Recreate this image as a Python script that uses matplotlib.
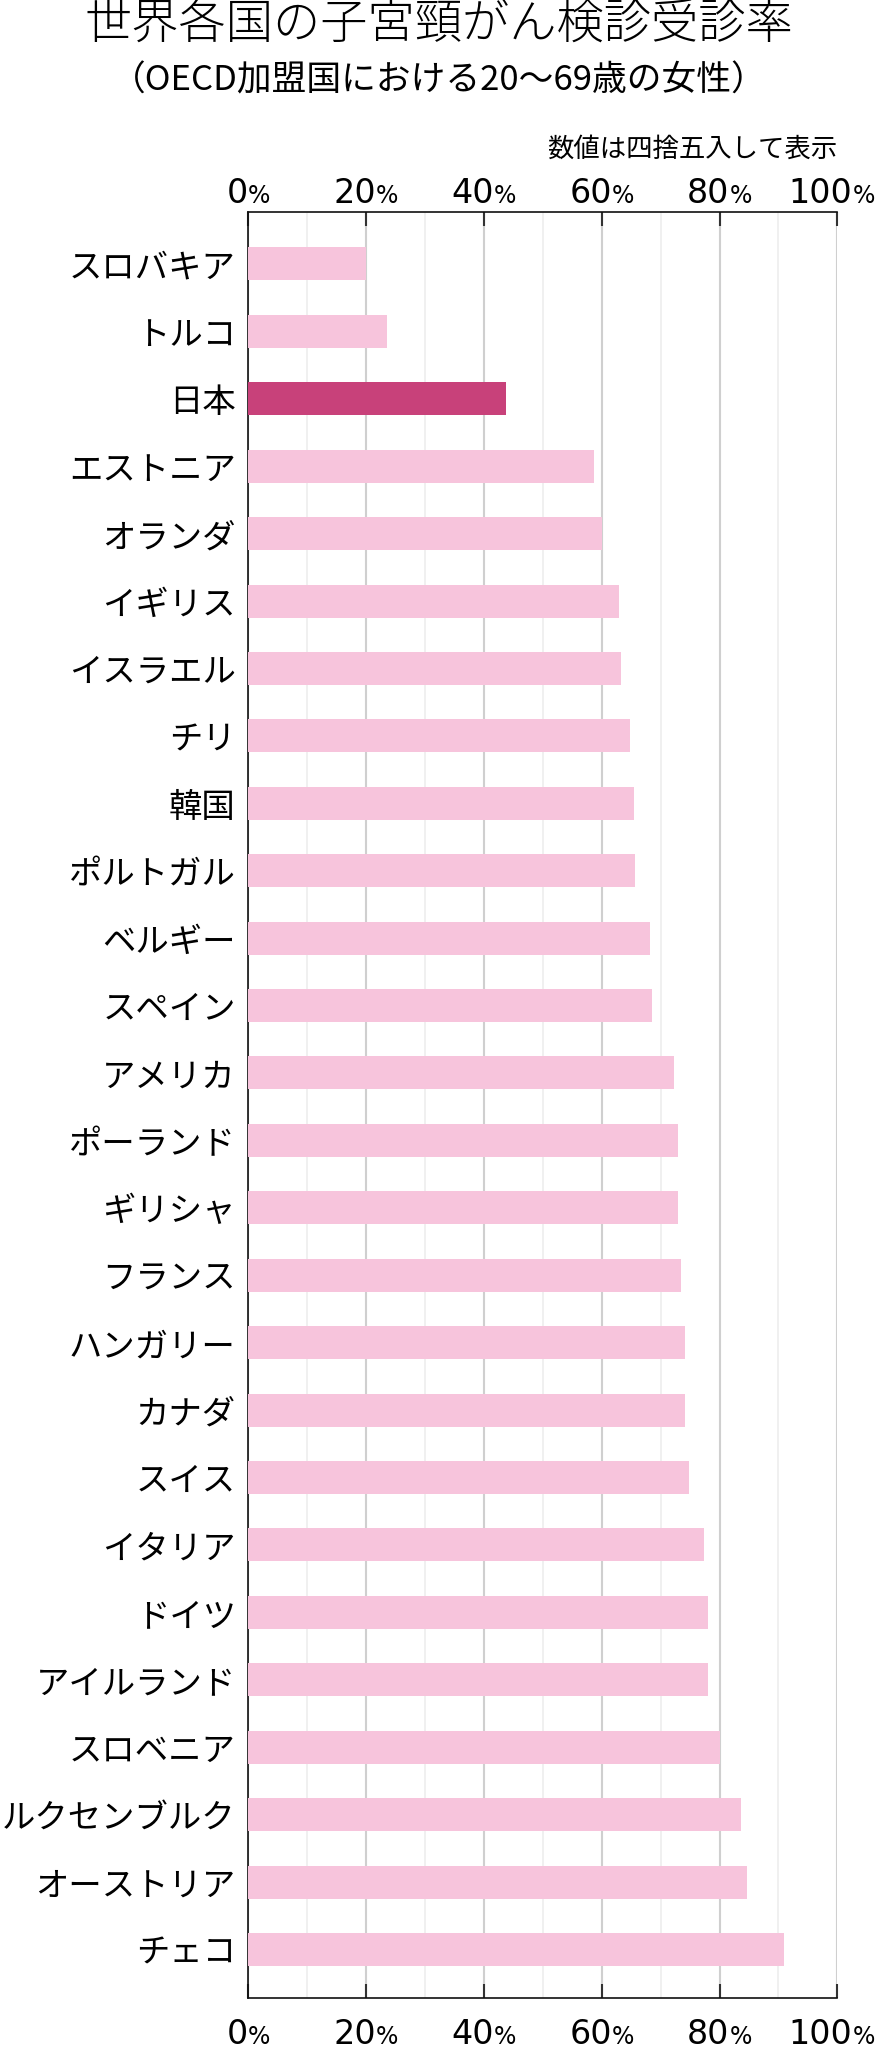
import matplotlib
matplotlib.use("Agg")
import matplotlib.pyplot as plt
import matplotlib.transforms as mtransforms
import numpy as np

plt.rcParams['font.family'] = ['Noto Sans CJK JP', 'DejaVu Sans']

# data (%)
countries = ['スロバキア', 'トルコ', '日本', 'エストニア', 'オランダ', 'イギリス',
             'イスラエル', 'チリ', '韓国', 'ポルトガル', 'ベルギー', 'スペイン',
             'アメリカ', 'ポーランド', 'ギリシャ', 'フランス', 'ハンガリー', 'カナダ',
             'スイス', 'イタリア', 'ドイツ', 'アイルランド', 'スロベニア',
             'ルクセンブルク', 'オーストリア', 'チェコ']
rates = [19.9, 23.6, 43.7, 58.7, 60.1, 62.9, 63.2, 64.8, 65.4, 65.6, 68.2, 68.5,
         72.2, 73.0, 73.0, 73.5, 74.1, 74.1, 74.9, 77.3, 78.0, 78.1, 80.1,
         83.6, 84.7, 91.0]
highlight = '日本'
tick_values = [0, 20, 40, 60, 80, 100]

title = '世界各国の子宮頸がん検診受診率'
subtitle = '（OECD加盟国における20～69歳の女性）'
note = '数値は四捨五入して表示'

W, H = 877, 2047
PINK = '#F7C4DC'
DARK = '#C8417A'


def main():
    fig = plt.figure(figsize=(W / 100, H / 100), dpi=100)
    ax = fig.add_axes([248.3 / W, 1 - 1998 / H, (837.3 - 248.3) / W, (1998 - 212) / H])

    y = np.arange(len(countries))
    colors = [DARK if c == highlight else PINK for c in countries]
    ax.barh(y, rates, height=0.49, color=colors, zorder=3)

    ax.set_xlim(0, 100)
    ax.set_ylim(len(countries) - 1 + 0.72, -0.77)
    ax.set_yticks(y)
    ax.set_yticklabels(countries, fontsize=24)
    ax.tick_params(axis='y', length=0, pad=9)

    ax.set_xticks(tick_values)
    ax.set_xticks(np.arange(10, 100, 20), minor=True)
    ax.tick_params(axis='x', which='major', direction='in', length=10, width=1.5,
                   color='#333333', top=True, bottom=True,
                   labeltop=False, labelbottom=False)
    ax.tick_params(axis='x', which='minor', length=0, top=False, bottom=False)
    ax.grid(axis='x', which='major', color='#CFCFCF', lw=1.5, zorder=0)
    ax.grid(axis='x', which='minor', color='#EDEDED', lw=1.2, zorder=0)
    ax.set_axisbelow(True)

    ax.spines['right'].set_visible(False)
    for s in ('left', 'top', 'bottom'):
        ax.spines[s].set_color('#111111')
        ax.spines[s].set_linewidth(1.2)

    # titles
    fig.text(0.5, 1 - 25 / H, title, ha='center', va='center', fontsize=34,
             fontweight='light')
    fig.text(0.5, 1 - 81 / H, subtitle, ha='center', va='center', fontsize=25)
    fig.text(837 / W, 1 - 149 / H, note, ha='right', va='center', fontsize=19)

    # percent tick labels with a smaller "%" sign, on top and bottom
    fig.canvas.draw()
    renderer = fig.canvas.get_renderer()
    trans = mtransforms.blended_transform_factory(ax.transData, fig.transFigure)
    for base in (1 - 203 / H, 1 - 2044 / H):
        for v in tick_values:
            num = ax.text(v, base, str(v), transform=trans, ha='left', va='baseline',
                          fontsize=24, family='DejaVu Sans')
            pct = ax.text(v, base, '%', transform=trans, ha='left', va='baseline',
                          fontsize=17, family='DejaVu Sans')
            w1 = num.get_window_extent(renderer).width
            w2 = pct.get_window_extent(renderer).width
            x0 = ax.transData.transform((v, 0))[0] - (w1 + w2) / 2
            # keep the last label inside the picture
            x0 = min(x0, W - 2 - (w1 + w2))
            shift = x0 - ax.transData.transform((v, 0))[0]
            num.set_transform(trans + mtransforms.ScaledTranslation(
                shift / fig.dpi, 0, fig.dpi_scale_trans))
            pct.set_transform(trans + mtransforms.ScaledTranslation(
                (shift + w1) / fig.dpi, 0, fig.dpi_scale_trans))

    fig.savefig('out.png', dpi=100)


if __name__ == '__main__':
    main()
